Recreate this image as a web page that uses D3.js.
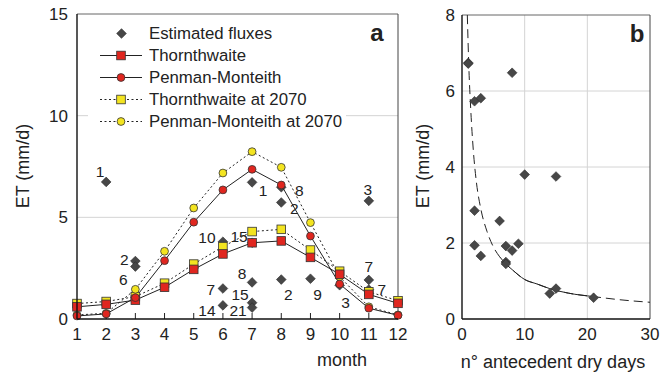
<!DOCTYPE html>
<html>
<head>
<meta charset="utf-8">
<script src="https://cdn.jsdelivr.net/npm/d3@7"></script>
<style>
  body { margin: 0; background: #fff; }
  svg text { font-family: "Liberation Sans", Arial, Helvetica, sans-serif; fill: #222; }
</style>
</head>
<body>
<div id="d3"></div>
<script>
// panel a: monthly ET
var months = [1, 2, 3, 4, 5, 6, 7, 8, 9, 10, 11, 12];
var thornthwaite = [0.6, 0.72, 0.93, 1.56, 2.44, 3.2, 3.75, 3.84, 3.03, 2.2, 1.21, 0.77];
var penman = [0.15, 0.25, 1.05, 2.87, 4.76, 6.35, 7.36, 6.59, 4.08, 1.72, 0.53, 0.18];
var thornthwaite2070 = [0.76, 0.86, 1.1, 1.76, 2.7, 3.56, 4.3, 4.41, 3.39, 2.35, 1.34, 0.9];
var penman2070 = [0.2, 0.28, 1.46, 3.33, 5.46, 7.18, 8.23, 7.46, 4.74, 2.08, 0.6, 0.2];

// estimated fluxes: month, ET and n° antecedent dry days (used by both panels)
var fluxMonth = [2, 3, 3, 6, 6, 6, 7, 7, 7, 7, 7, 8, 8, 8, 9, 10, 11, 11, 11];
var fluxET = [6.74, 2.85, 2.58, 3.8, 1.5, 0.67, 6.72, 3.75, 1.8, 0.8, 0.56, 6.48, 5.73, 1.94, 1.98, 1.66, 5.81, 1.92, 1.45];
var fluxDays = [1, 2, 6, 10, 7, 14, 1, 15, 8, 15, 21, 8, 2, 2, 9, 3, 3, 7, 7];

// panel b: fitted curve
var curveDays = [0.85, 1.1, 1.4, 1.8, 2.3, 3, 4, 5, 6, 7, 8, 10, 12, 14, 17, 21, 25, 30];
var curveET = [8.0, 6.6, 5.5, 4.45, 3.6, 2.9, 2.3, 1.9, 1.64, 1.45, 1.3, 1.04, 0.92, 0.8, 0.68, 0.59, 0.51, 0.44];

var yTicksA = [0, 5, 10, 15];
var yTicksB = [0, 2, 4, 6, 8];
var xTicksB = [0, 10, 20, 30];

// label offsets for the flux numbers (layout only)
var labelOffsets = [[-6, -10], [-11, -1], [-12, 13], [-16, -4], [-12, 1], [-16, 5], [11, 8], [-13, -6],
    [-10, -9], [-12, -8], [-14, 3], [18, 3], [13, 6], [7, 15], [7, 16], [6, 17], [-1, -11], [0, -13], [13, 0]];

var red = "#e0261f", yellow = "#f3e420", dark = "#474747";

var svg = d3.select("#d3").append("svg")
    .attr("width", 670)
    .attr("height", 375);

createPanelA();
createPanelB();

function diamond(sel, size) {
    sel.append("path")
        .attr("d", d3.symbol().type(d3.symbolDiamond2 || d3.symbolDiamond).size(size))
        .attr("fill", dark)
        .attr("stroke", "#2a2a2a")
        .attr("stroke-width", 0.6);
}

function marker(g, type, x, y, fill) {
    if (type == "square") {
        g.append("rect")
            .attr("x", x - 4.3).attr("y", y - 4.3)
            .attr("width", 8.6).attr("height", 8.6)
            .attr("fill", fill).attr("stroke", "#333").attr("stroke-width", 0.8);
    } else {
        g.append("circle")
            .attr("cx", x).attr("cy", y).attr("r", 3.9)
            .attr("fill", fill).attr("stroke", "#333").attr("stroke-width", 0.8);
    }
}

function createPanelA() {
    var x = d3.scaleLinear().domain([1, 12]).range([77, 398]);
    var y = d3.scaleLinear().domain([0, 15]).range([319, 14]);
    var g = svg.append("g");

    // grid
    g.selectAll(".grid").data([5, 10]).enter().append("line")
        .attr("x1", x(1)).attr("x2", x(12))
        .attr("y1", function(d) { return y(d); }).attr("y2", function(d) { return y(d); })
        .attr("stroke", "#d4d4d4").attr("stroke-width", 1);

    // frame
    g.append("line").attr("x1", x(1)).attr("x2", x(12)).attr("y1", y(15)).attr("y2", y(15))
        .attr("stroke", "#666").attr("stroke-width", 1);
    g.append("line").attr("x1", x(12)).attr("x2", x(12)).attr("y1", y(15)).attr("y2", y(0))
        .attr("stroke", "#444").attr("stroke-width", 1);

    // x ticks (inward)
    g.selectAll(".tick").data(months).enter().append("line")
        .attr("x1", function(d) { return x(d); }).attr("x2", function(d) { return x(d); })
        .attr("y1", y(0)).attr("y2", y(0) - 6)
        .attr("stroke", "#222").attr("stroke-width", 1);

    // legend background
    g.append("rect").attr("x", 88).attr("y", 19).attr("width", 258).attr("height", 112).attr("fill", "#fff");

    // estimated fluxes (behind the model lines)
    fluxMonth.forEach(function(m, i) {
        var px = x(m), py = y(fluxET[i]);
        diamond(g.append("g").attr("transform", "translate(" + px + "," + py + ")"), 60);
        g.append("text")
            .attr("x", px + labelOffsets[i][0])
            .attr("y", py + labelOffsets[i][1])
            .attr("dy", ".35em")
            .attr("text-anchor", "middle")
            .style("font-size", "15.5px")
            .text(fluxDays[i]);
    });

    var series = [
        {values: thornthwaite2070, type: "square", fill: yellow, dash: "2,2.5"},
        {values: penman2070, type: "circle", fill: yellow, dash: "2,2.5"},
        {values: thornthwaite, type: "square", fill: red, dash: null},
        {values: penman, type: "circle", fill: red, dash: null}
    ];
    var line = d3.line()
        .x(function(d, i) { return x(months[i]); })
        .y(function(d) { return y(d); });

    series.forEach(function(s) {
        g.append("path")
            .attr("d", line(s.values))
            .attr("fill", "none")
            .attr("stroke", "#222")
            .attr("stroke-width", 1)
            .attr("stroke-dasharray", s.dash);
    });
    series.forEach(function(s) {
        s.values.forEach(function(v, i) {
            marker(g, s.type, x(months[i]), y(v), s.fill);
        });
    });

    // axes
    g.append("line").attr("x1", x(1)).attr("x2", x(1)).attr("y1", y(15)).attr("y2", y(0))
        .attr("stroke", "#111").attr("stroke-width", 1.4);
    g.append("line").attr("x1", x(1)).attr("x2", x(12)).attr("y1", y(0)).attr("y2", y(0))
        .attr("stroke", "#111").attr("stroke-width", 1.4);

    g.selectAll(".ylab").data(yTicksA).enter().append("text")
        .attr("x", 68).attr("y", function(d) { return y(d); })
        .attr("dy", ".35em").attr("text-anchor", "end")
        .style("font-size", "17px")
        .text(function(d) { return d; });
    g.selectAll(".xlab").data(months).enter().append("text")
        .attr("x", function(d) { return x(d); }).attr("y", 334)
        .attr("dy", ".35em").attr("text-anchor", "middle")
        .style("font-size", "17px")
        .text(function(d) { return d; });

    g.append("text")
        .attr("x", 342).attr("y", 366)
        .attr("text-anchor", "middle")
        .style("font-size", "18px")
        .text("month");
    g.append("text")
        .attr("transform", "translate(29,166) rotate(-90)")
        .attr("text-anchor", "middle")
        .style("font-size", "18px")
        .text("ET (mm/d)");
    g.append("text")
        .attr("x", 377).attr("y", 41)
        .attr("text-anchor", "middle")
        .style("font-size", "24px").style("font-weight", "bold")
        .text("a");

    // legend
    var legend = [
        {label: "Estimated fluxes", type: "diamond"},
        {label: "Thornthwaite", type: "square", fill: red, dash: null},
        {label: "Penman-Monteith", type: "circle", fill: red, dash: null},
        {label: "Thornthwaite at 2070", type: "square", fill: yellow, dash: "2,2.5"},
        {label: "Penman-Monteith at 2070", type: "circle", fill: yellow, dash: "2,2.5"}
    ];
    legend.forEach(function(l, i) {
        var ly = 33.5 + i * 22;
        if (l.type == "diamond") {
            diamond(g.append("g").attr("transform", "translate(121.5," + ly + ")"), 60);
        } else {
            g.append("line").attr("x1", 100).attr("x2", 142).attr("y1", ly).attr("y2", ly)
                .attr("stroke", "#222").attr("stroke-width", 1).attr("stroke-dasharray", l.dash);
            marker(g, l.type, 121, ly, l.fill);
        }
        g.append("text")
            .attr("x", 149).attr("y", ly)
            .attr("dy", ".35em")
            .style("font-size", "16.8px")
            .text(l.label);
    });
}

function createPanelB() {
    var x = d3.scaleLinear().domain([0, 30]).range([462, 650]);
    var y = d3.scaleLinear().domain([0, 8]).range([319, 15]);
    var g = svg.append("g");

    g.selectAll(".hgrid").data([2, 4, 6]).enter().append("line")
        .attr("x1", x(0)).attr("x2", x(30))
        .attr("y1", function(d) { return y(d); }).attr("y2", function(d) { return y(d); })
        .attr("stroke", "#d4d4d4");
    g.selectAll(".vgrid").data([10, 20]).enter().append("line")
        .attr("x1", function(d) { return x(d); }).attr("x2", function(d) { return x(d); })
        .attr("y1", y(0)).attr("y2", y(8))
        .attr("stroke", "#d4d4d4");

    g.append("line").attr("x1", x(0)).attr("x2", x(30)).attr("y1", y(8)).attr("y2", y(8))
        .attr("stroke", "#666");
    g.append("line").attr("x1", x(30)).attr("x2", x(30)).attr("y1", y(8)).attr("y2", y(0))
        .attr("stroke", "#444");

    var curve = d3.line()
        .x(function(d, i) { return x(curveDays[i]); })
        .y(function(d) { return y(d); })
        .curve(d3.curveMonotoneX);
    g.append("path")
        .attr("d", curve(curveET))
        .attr("fill", "none").attr("stroke", "#222").attr("stroke-width", 1)
        .attr("stroke-dasharray", "9,5");
    // solid part over the range of the data fit
    var solid = d3.line()
        .defined(function(d, i) { return curveDays[i] >= 6 && curveDays[i] <= 21; })
        .x(function(d, i) { return x(curveDays[i]); })
        .y(function(d) { return y(d); })
        .curve(d3.curveMonotoneX);
    g.append("path")
        .attr("d", solid(curveET))
        .attr("fill", "none").attr("stroke", "#222").attr("stroke-width", 1);

    fluxDays.forEach(function(d, i) {
        diamond(g.append("g").attr("transform", "translate(" + x(d) + "," + y(fluxET[i]) + ")"), 60);
    });

    g.append("line").attr("x1", x(0)).attr("x2", x(0)).attr("y1", y(8)).attr("y2", y(0))
        .attr("stroke", "#111").attr("stroke-width", 1.4);
    g.append("line").attr("x1", x(0)).attr("x2", x(30)).attr("y1", y(0)).attr("y2", y(0))
        .attr("stroke", "#111").attr("stroke-width", 1.4);

    g.selectAll(".ylab").data(yTicksB).enter().append("text")
        .attr("x", 455).attr("y", function(d) { return y(d); })
        .attr("dy", ".35em").attr("text-anchor", "end")
        .style("font-size", "17px")
        .text(function(d) { return d; });
    g.selectAll(".xlab").data(xTicksB).enter().append("text")
        .attr("x", function(d) { return x(d); }).attr("y", 334)
        .attr("dy", ".35em").attr("text-anchor", "middle")
        .style("font-size", "17px")
        .text(function(d) { return d; });

    g.append("text")
        .attr("x", 553).attr("y", 368)
        .attr("text-anchor", "middle")
        .style("font-size", "18px")
        .text("n° antecedent dry days");
    g.append("text")
        .attr("transform", "translate(429,166) rotate(-90)")
        .attr("text-anchor", "middle")
        .style("font-size", "18px")
        .text("ET (mm/d)");
    g.append("text")
        .attr("x", 637).attr("y", 42)
        .attr("text-anchor", "middle")
        .style("font-size", "24px").style("font-weight", "bold")
        .text("b");
}
</script>
</body>
</html>
